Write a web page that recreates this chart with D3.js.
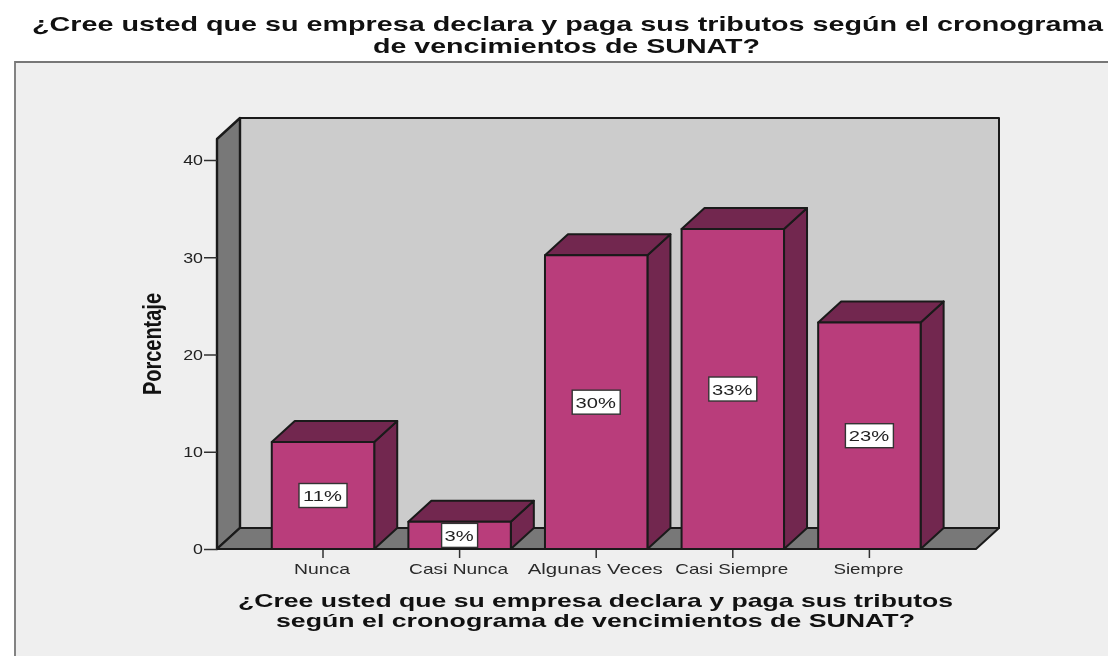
<!DOCTYPE html>
<html><head><meta charset="utf-8">
<script src="https://cdn.jsdelivr.net/npm/d3@7"></script>
<style>html,body{margin:0;padding:0;background:#fff}svg{display:block;filter:blur(0.4px)}text{font-family:"Liberation Sans",Arial,sans-serif}</style>
</head><body><svg id="c" width="1108" height="656"></svg>
<script>
const categories=["Nunca","Casi Nunca","Algunas Veces","Casi Siempre","Siempre"];
const values=[11,2.8,30.2,32.9,23.3];
const barLabels=["11%","3%","30%","33%","23%"];
const yTicks=[0,10,20,30,40];
const titleLines=["¿Cree usted que su empresa declara y paga sus tributos según el cronograma","de vencimientos de SUNAT?"];
const xTitleLines=["¿Cree usted que su empresa declara y paga sus tributos","según el cronograma de vencimientos de SUNAT?"];
const yTitle="Porcentaje";
const xLabelFit=[56,99,135,113,70];

const svg=d3.select("#c");
const W=1108,H=656;
const dx=23,dy=21;
const x=d3.scaleBand().domain(categories).range([254.7,937.7]).paddingInner(.25).paddingOuter(.125);
const y=d3.scaleLinear().domain([0,40]).range([549,160]);
const leftX=217,rightX=976,topY=139;
const ink="#1a1a1a",tickInk="#303030";

svg.append("rect").attr("width",W).attr("height",H).attr("fill","#fff");
svg.append("path").attr("d",`M15,${H+3}V62H${W+3}V${H+3}Z`).attr("fill","#efefef").attr("stroke","#777").attr("stroke-width",1.8);

const poly=(pts,fill,sw=2)=>svg.append("polygon").attr("points",pts.map(p=>p.join(",")).join(" ")).attr("fill",fill).attr("stroke",ink).attr("stroke-width",sw).attr("stroke-linejoin","round");
poly([[leftX+dx,topY-dy],[rightX+dx,topY-dy],[rightX+dx,y(0)-dy],[leftX+dx,y(0)-dy]],"#cccccc");
poly([[leftX,topY],[leftX+dx,topY-dy],[leftX+dx,y(0)-dy],[leftX,y(0)]],"#787878",2.4);
poly([[leftX,y(0)],[leftX+dx,y(0)-dy],[rightX+dx,y(0)-dy],[rightX,y(0)]],"#787878");

const stretch=(sel,k)=>sel.each(function(){
  d3.select(this).attr("textLength",this.getComputedTextLength()*k).attr("lengthAdjust","spacingAndGlyphs");
});

categories.forEach((c,i)=>{
  const x0=x(c),x1=x0+x.bandwidth(),yt=y(values[i]),yb=y(0);
  poly([[x1,yt],[x1+dx,yt-dy],[x1+dx,yb-dy],[x1,yb]],"#72274f");
  poly([[x0,yt],[x0+dx,yt-dy],[x1+dx,yt-dy],[x1,yt]],"#72274f");
  poly([[x0,yt],[x1,yt],[x1,yb],[x0,yb]],"#b93d7b");
  const cx=x0+x.bandwidth()/2, cy=(yt+yb)/2;
  const w=barLabels[i].length===2?36:48, h=24;
  svg.append("rect").attr("x",cx-w/2).attr("y",cy-h/2).attr("width",w).attr("height",h).attr("fill","#fff").attr("stroke","#333").attr("stroke-width",1.4);
  svg.append("text").attr("x",cx-.5).attr("y",cy+5.5).attr("text-anchor","middle").attr("font-size",15.5).attr("fill","#222").text(barLabels[i]).call(stretch,1.3);
});

const yAxis=svg.append("g").attr("transform",`translate(${leftX},0)`).call(d3.axisLeft(y).tickValues(yTicks).tickSize(13).tickPadding(1).tickFormat(d3.format("d")));
yAxis.select(".domain").remove();
yAxis.selectAll("line").attr("stroke",tickInk).attr("stroke-width",1.5);
yAxis.selectAll("text").attr("font-size",15.5).attr("font-family","Liberation Sans").attr("fill","#222").call(stretch,1.15);

const xAxis=svg.append("g").attr("transform",`translate(0,${y(0)})`).call(d3.axisBottom(x).tickSize(9).tickPadding(5));
xAxis.select(".domain").remove();
xAxis.selectAll("line").attr("stroke",tickInk).attr("stroke-width",1.5);
xAxis.selectAll("text").attr("font-size",15).attr("font-family","Liberation Sans").attr("fill","#2a2a2a").attr("dx",-1).attr("textLength",(d,i)=>xLabelFit[i]).attr("lengthAdjust","spacingAndGlyphs");
svg.append("line").attr("x1",leftX).attr("x2",rightX).attr("y1",y(0)).attr("y2",y(0)).attr("stroke",ink).attr("stroke-width",2);

const stretched=(t,cx,by,len,fs)=>svg.append("text").attr("x",cx).attr("y",by).attr("text-anchor","middle").attr("font-size",fs).attr("font-weight","bold").attr("fill","#111").attr("textLength",len).attr("lengthAdjust","spacingAndGlyphs").text(t);
stretched(titleLines[0],567.5,31,1071,20.5);
stretched(titleLines[1],566.5,53,387,20.5);
stretched(xTitleLines[0],595.5,606.5,715,19);
stretched(xTitleLines[1],595.5,626.5,639,19);
svg.append("text").attr("transform","translate(160.5,344) rotate(-90)").attr("text-anchor","middle").attr("font-size",26).attr("font-weight","bold").attr("fill","#111").attr("textLength",102).attr("lengthAdjust","spacingAndGlyphs").text(yTitle);
</script></body></html>
